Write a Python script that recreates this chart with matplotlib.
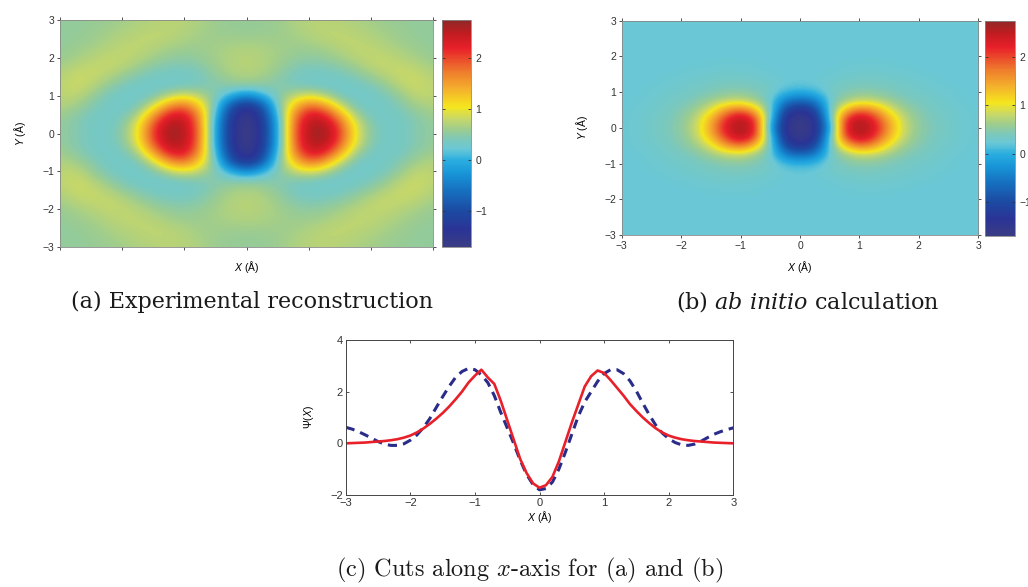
import numpy as np
import matplotlib
matplotlib.use("Agg")
import matplotlib.pyplot as plt
from matplotlib.colors import LinearSegmentedColormap

plt.rcParams['font.family'] = ['Liberation Sans', 'DejaVu Sans']
plt.rcParams['mathtext.fontset'] = 'custom'
plt.rcParams['mathtext.rm'] = 'Liberation Sans'
plt.rcParams['mathtext.it'] = 'Liberation Sans:italic'

# ---------------- data ----------------
# quadrant grids (rows: Y = 0, 0.25, ..., 3 ; cols: X = 0, 0.25, ..., 3)
quad_step = 0.25
exp_quadrant = [
    [-1.8, -1.3, -0.1, 1.8, 2.6, 2.7, 2.1, 1.0, 0.5, 0.32, 0.35, 0.48, 0.55],
    [-1.75, -1.3, -0.1, 1.75, 2.55, 2.6, 1.95, 0.95, 0.45, 0.32, 0.35, 0.46, 0.56],
    [-1.65, -1.2, 0.1, 1.6, 2.35, 2.25, 1.5, 0.65, 0.36, 0.32, 0.38, 0.52, 0.62],
    [-1.3, -0.9, 0.35, 1.2, 1.8, 1.55, 0.85, 0.38, 0.3, 0.35, 0.47, 0.65, 0.7],
    [-0.4, 0.0, 0.45, 0.75, 0.95, 0.75, 0.4, 0.3, 0.32, 0.4, 0.6, 0.78, 0.75],
    [0.5, 0.48, 0.45, 0.42, 0.38, 0.32, 0.3, 0.32, 0.4, 0.56, 0.75, 0.84, 0.75],
    [0.68, 0.64, 0.52, 0.38, 0.32, 0.32, 0.35, 0.44, 0.57, 0.72, 0.82, 0.82, 0.72],
    [0.74, 0.7, 0.6, 0.46, 0.4, 0.42, 0.48, 0.6, 0.74, 0.8, 0.8, 0.75, 0.65],
    [0.74, 0.7, 0.64, 0.56, 0.52, 0.55, 0.63, 0.73, 0.78, 0.78, 0.72, 0.65, 0.58],
    [0.7, 0.68, 0.64, 0.6, 0.6, 0.64, 0.72, 0.77, 0.77, 0.72, 0.65, 0.6, 0.55],
    [0.62, 0.62, 0.62, 0.63, 0.68, 0.74, 0.77, 0.76, 0.72, 0.66, 0.6, 0.56, 0.54],
    [0.56, 0.57, 0.6, 0.66, 0.72, 0.76, 0.75, 0.72, 0.67, 0.62, 0.58, 0.55, 0.54],
    [0.55, 0.57, 0.6, 0.68, 0.73, 0.74, 0.72, 0.68, 0.63, 0.59, 0.56, 0.55, 0.54],
]
theory_quadrant = [
    [-1.7, -1.5, -0.2, 2.3, 2.7, 2.35, 1.5, 0.8, 0.52, 0.4, 0.32, 0.26, 0.23],
    [-1.65, -1.45, 0.15, 2.1, 2.6, 2.15, 1.35, 0.75, 0.5, 0.38, 0.31, 0.26, 0.23],
    [-1.4, -1.1, 0.3, 1.3, 1.85, 1.55, 0.95, 0.6, 0.45, 0.35, 0.29, 0.25, 0.22],
    [-0.7, -0.5, 0.3, 0.6, 0.8, 0.75, 0.6, 0.45, 0.37, 0.31, 0.27, 0.23, 0.22],
    [0.0, 0.1, 0.32, 0.44, 0.5, 0.48, 0.42, 0.35, 0.31, 0.28, 0.25, 0.22, 0.22],
    [0.22, 0.24, 0.29, 0.34, 0.37, 0.37, 0.34, 0.31, 0.28, 0.25, 0.23, 0.22, 0.22],
    [0.22, 0.22, 0.24, 0.27, 0.29, 0.29, 0.28, 0.26, 0.24, 0.23, 0.22, 0.22, 0.22],
    [0.22, 0.22, 0.22, 0.24, 0.25, 0.25, 0.24, 0.23, 0.22, 0.22, 0.22, 0.22, 0.22],
    [0.22, 0.22, 0.22, 0.22, 0.22, 0.22, 0.22, 0.22, 0.22, 0.22, 0.22, 0.22, 0.22],
    [0.22, 0.22, 0.22, 0.22, 0.22, 0.22, 0.22, 0.22, 0.22, 0.22, 0.22, 0.22, 0.22],
    [0.22, 0.22, 0.22, 0.22, 0.22, 0.22, 0.22, 0.22, 0.22, 0.22, 0.22, 0.22, 0.22],
    [0.22, 0.22, 0.22, 0.22, 0.22, 0.22, 0.22, 0.22, 0.22, 0.22, 0.22, 0.22, 0.22],
    [0.22, 0.22, 0.22, 0.22, 0.22, 0.22, 0.22, 0.22, 0.22, 0.22, 0.22, 0.22, 0.22],
]

cut_x = [-3.0, -2.9, -2.8, -2.7, -2.6, -2.5, -2.4, -2.3, -2.2, -2.1, -2.0,
         -1.9, -1.8, -1.7, -1.6, -1.5, -1.4, -1.3, -1.2, -1.1, -1.0,
         -0.9, -0.8, -0.7, -0.6, -0.5, -0.4, -0.3, -0.2, -0.1, 0.0,
         0.1, 0.2, 0.3, 0.4, 0.5, 0.6, 0.7, 0.8, 0.9, 1.0,
         1.1, 1.2, 1.3, 1.4, 1.5, 1.6, 1.7, 1.8, 1.9, 2.0,
         2.1, 2.2, 2.3, 2.4, 2.5, 2.6, 2.7, 2.8, 2.9, 3.0]
cut_experiment = [0.62, 0.55, 0.45, 0.33, 0.2, 0.07, -0.03, -0.08, -0.08, -0.02, 0.12,
                  0.32, 0.6, 0.95, 1.38, 1.8, 2.2, 2.55, 2.78, 2.9, 2.85,
                  2.65, 2.35, 1.85, 1.2, 0.6, 0.0, -0.65, -1.2, -1.6, -1.8,
                  -1.75, -1.5, -1.0, -0.35, 0.35, 1.05, 1.6, 2.0, 2.4, 2.7,
                  2.85, 2.85, 2.7, 2.42, 2.02, 1.55, 1.1, 0.7, 0.4, 0.18,
                  0.03, -0.06, -0.08, -0.03, 0.08, 0.22, 0.35, 0.45, 0.53, 0.6]
cut_theory = [0.0, 0.01, 0.02, 0.03, 0.05, 0.07, 0.09, 0.12, 0.16, 0.22, 0.3,
              0.42, 0.57, 0.75, 0.95, 1.17, 1.42, 1.7, 2.0, 2.35, 2.62,
              2.85, 2.55, 2.3, 1.65, 0.9, 0.15, -0.6, -1.15, -1.55, -1.72,
              -1.62, -1.3, -0.7, 0.05, 0.8, 1.5, 2.2, 2.6, 2.82, 2.72,
              2.45, 2.15, 1.85, 1.52, 1.25, 1.0, 0.78, 0.58, 0.42, 0.3,
              0.22, 0.16, 0.12, 0.09, 0.07, 0.05, 0.03, 0.02, 0.01, 0.0]

axis_ticks = [-3, -2, -1, 0, 1, 2, 3]
cbar_ticks = [-1, 0, 1, 2]
cut_yticks = [-2, 0, 2, 4]
vmin, vmax = -1.7, 2.75

cmap_stops = [(-1.7, '#3a3c84'), (-1.35, '#2a3496'), (-1.0, '#1c4aa2'),
              (-0.6, '#1670c0'), (-0.25, '#1896d8'), (0.0, '#2aaee0'),
              (0.22, '#6ac8d6'), (0.4, '#7cc8bc'), (0.6, '#9ccc90'),
              (0.82, '#c8d868'), (1.05, '#f5e61e'), (1.4, '#f4b02c'),
              (1.75, '#ee7a2c'), (2.2, '#e8202a'), (2.5, '#c01c20'),
              (2.75, '#902828')]
cmap = LinearSegmentedColormap.from_list(
    'jetlike', [((v - vmin) / (vmax - vmin), c) for v, c in cmap_stops])


def full_grid(q):
    q = np.array(q)
    half = np.hstack([q[:, :0:-1], q])
    return np.vstack([half[:0:-1], half])


W, H = 1028, 587
fig = plt.figure(figsize=(W / 100, H / 100), dpi=100)


def rect(l, t, r, b):
    return [l / W, 1 - b / H, (r - l) / W, (b - t) / H]


def heat(ax_rect, cax_rect, q, xlabels, xlab_off):
    ax = fig.add_axes(rect(*ax_rect))
    g = full_grid(q)
    e = 3 + quad_step / 2
    im = ax.imshow(g, origin='lower', extent=[-e, e, -e, e], cmap=cmap,
                   vmin=vmin, vmax=vmax, interpolation='bicubic', aspect='auto')
    ax.set_xlim(-3, 3)
    ax.set_ylim(-3, 3)
    ax.set_xticks(axis_ticks)
    ax.set_yticks(axis_ticks)
    if not xlabels:
        ax.set_xticklabels([])
    ax.tick_params(direction='out', length=2.5, width=0.6, labelsize=7.5,
                   top=True, right=True, colors='#333333', pad=1.5)
    for s in ax.spines.values():
        s.set_color('#888888')
        s.set_linewidth(0.6)
    wpx = ax_rect[2] - ax_rect[0]
    hpx = ax_rect[3] - ax_rect[1]
    ax.set_xlabel(r'$X$ (Å)', fontsize=7.5)
    ax.xaxis.set_label_coords(0.5, -xlab_off / hpx)
    ax.set_ylabel(r'$Y$ (Å)', fontsize=7.5, va='center')
    ax.yaxis.set_label_coords(-40 / wpx, 0.5)
    cax = fig.add_axes(rect(*cax_rect))
    cb = fig.colorbar(im, cax=cax, ticks=cbar_ticks)
    cb.outline.set_edgecolor('#888888')
    cb.outline.set_linewidth(0.6)
    cax.tick_params(direction='in', length=2.5, width=0.6, labelsize=7.5,
                    left=True, right=True, colors='#333333', pad=3)
    return ax


heat((60, 20, 433, 247), (441.5, 20, 471, 247), exp_quadrant, False, 12)
heat((621.7, 20.7, 978.3, 235), (985, 20.7, 1015, 236), theory_quadrant, True, 24)

axc = fig.add_axes(rect(345.7, 340, 733.3, 495))
axc.plot(cut_x, cut_experiment, color='#2a2c8a', lw=2.2, ls=(0, (3.0, 2.0)))
axc.plot(cut_x, cut_theory, color='#e8202a', lw=1.9)
axc.set_xlim(-3, 3)
axc.set_ylim(-2, 4)
axc.set_xticks(axis_ticks)
axc.set_yticks(cut_yticks)
axc.tick_params(direction='in', length=2.5, width=0.6, labelsize=8,
                top=True, right=True, colors='#333333', pad=2)
for s in axc.spines.values():
    s.set_color('#444444')
    s.set_linewidth(0.7)
axc.set_xlabel(r'$X$ (Å)', fontsize=7.5, labelpad=1)
axc.set_ylabel(r'$\Psi$($X$)', fontsize=7.5, va='center')
axc.yaxis.set_label_coords(-37 / 387.6, 0.5)

# captions
cap_kw = dict(fontsize=16, family='DejaVu Serif', color='#1a1a1a')
fig.text(252 / W, 1 - 308 / H, '(a) Experimental reconstruction',
         ha='center', va='baseline', **cap_kw)
fig.text(808 / W, 1 - 308 / H, r'(b) $\mathit{ab\ initio}$ calculation',
         ha='center', va='baseline', math_fontfamily='dejavuserif', **cap_kw)
fig.text(530 / W, 1 - 576 / H, r'(c) Cuts along $x$-axis for (a) and (b)',
         ha='center', va='baseline', family='cmr10', math_fontfamily='cm',
         fontsize=17.5, color='#1a1a1a')

fig.savefig('out.png', dpi=100)
